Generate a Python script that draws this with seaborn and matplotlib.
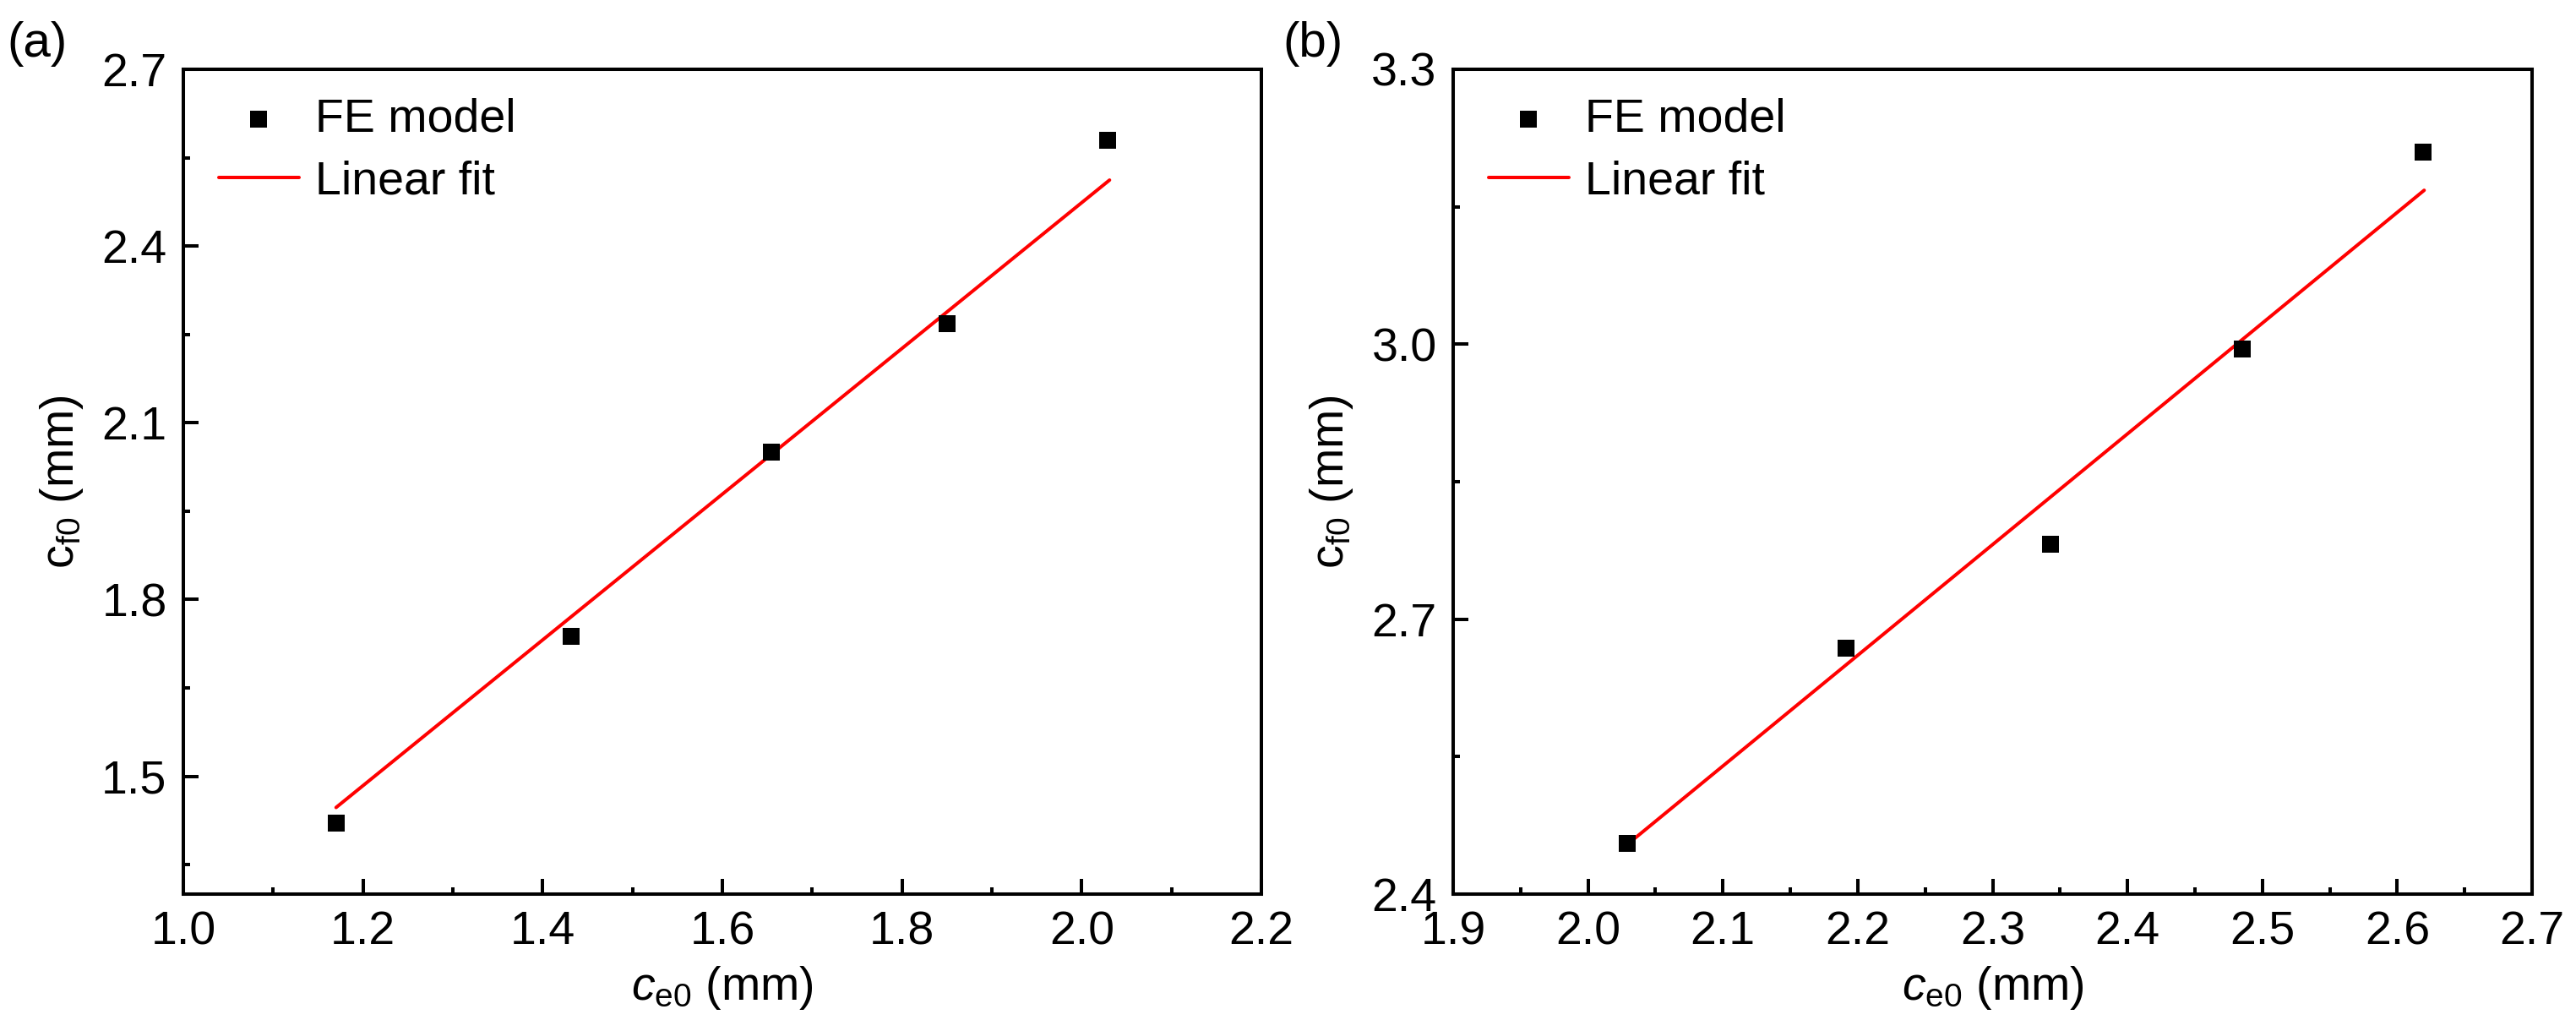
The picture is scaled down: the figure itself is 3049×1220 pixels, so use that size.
import numpy as np
import pandas as pd
import matplotlib
matplotlib.use("Agg")
import matplotlib.pyplot as plt
import seaborn as sns
from matplotlib.ticker import FixedLocator, FormatStrFormatter

# ---------------- data ----------------
ce0_a = [1.170, 1.432, 1.655, 1.850, 2.029]
cf0_a = [1.421, 1.737, 2.050, 2.268, 2.580]
fit_x_a = [1.170, 2.031]
fit_y_a = [1.447, 2.512]

ce0_b = [2.029, 2.191, 2.343, 2.485, 2.619]
cf0_b = [2.455, 2.668, 2.782, 2.995, 3.210]
fit_x_b = [2.029, 2.620]
fit_y_b = [2.454, 3.168]

xticks_a = [1.0, 1.2, 1.4, 1.6, 1.8, 2.0, 2.2]
xminor_a = [1.1, 1.3, 1.5, 1.7, 1.9, 2.1]
yticks_a = [1.5, 1.8, 2.1, 2.4, 2.7]
yminor_a = [1.35, 1.65, 1.95, 2.25, 2.55]
xlim_a = (1.0, 2.2)
ylim_a = (1.3, 2.7)

xticks_b = [1.9, 2.0, 2.1, 2.2, 2.3, 2.4, 2.5, 2.6, 2.7]
xminor_b = [1.95, 2.05, 2.15, 2.25, 2.35, 2.45, 2.55, 2.65]
yticks_b = [2.4, 2.7, 3.0, 3.3]
yminor_b = [2.55, 2.85, 3.15]
xlim_b = (1.9, 2.7)
ylim_b = (2.4, 3.3)

labels = ["FE model", "Linear fit"]
panel_tags = ["(a)", "(b)"]
xlabel = r"$c_{\mathrm{e0}}$ (mm)"
ylabel = r"$\mathrm{c}_{\mathrm{f0}}$ (mm)"

# ---------------- style ----------------
sns.set_theme(style="ticks")
plt.rcParams["font.family"] = ["Liberation Sans", "DejaVu Sans"]
plt.rcParams["mathtext.fontset"] = "custom"
plt.rcParams["mathtext.rm"] = "Liberation Sans"
plt.rcParams["mathtext.it"] = "Liberation Sans:italic"
plt.rcParams["mathtext.bf"] = "Liberation Sans:bold"
plt.rcParams["axes.edgecolor"] = "black"
plt.rcParams["text.color"] = "black"
plt.rcParams["axes.labelcolor"] = "black"
plt.rcParams["xtick.color"] = "black"
plt.rcParams["ytick.color"] = "black"

FS = 40
W, H = 3049, 1220
DPI = 100
fig = plt.figure(figsize=(W / DPI, H / DPI), dpi=DPI)
fig.patch.set_facecolor("white")

ax_a = fig.add_axes([217 / W, 1 - 1058 / H, (1493 - 217) / W, (1058 - 82) / H])
ax_b = fig.add_axes([1720 / W, 1 - 1058 / H, (2997 - 1720) / W, (1058 - 82) / H])

panels = [
    (ax_a, ce0_a, cf0_a, fit_x_a, fit_y_a, xticks_a, xminor_a, yticks_a, yminor_a, xlim_a, ylim_a),
    (ax_b, ce0_b, cf0_b, fit_x_b, fit_y_b, xticks_b, xminor_b, yticks_b, yminor_b, xlim_b, ylim_b),
]

for ax, xs, ys, fx, fy, xt, xm, yt, ym, xl, yl in panels:
    ax.set_facecolor("white")
    df_pts = pd.DataFrame({"x": xs, "y": ys})
    df_fit = pd.DataFrame({"x": fx, "y": fy})
    sns.scatterplot(data=df_pts, x="x", y="y", ax=ax, marker="s", s=207,
                    color="black", linewidth=0, label=labels[0], zorder=3)
    sns.lineplot(data=df_fit, x="x", y="y", ax=ax, color="#ff0000",
                 linewidth=2.9, label=labels[1], zorder=2)
    ax.set_xlim(*xl)
    ax.set_ylim(*yl)
    ax.xaxis.set_major_locator(FixedLocator(xt))
    ax.xaxis.set_minor_locator(FixedLocator(xm))
    ax.yaxis.set_major_locator(FixedLocator(yt))
    ax.yaxis.set_minor_locator(FixedLocator(ym))
    ax.xaxis.set_major_formatter(FormatStrFormatter("%.1f"))
    ax.yaxis.set_major_formatter(FormatStrFormatter("%.1f"))
    for s in ax.spines.values():
        s.set_visible(True)
        s.set_linewidth(2.9)
        s.set_color("black")
    ax.tick_params(which="major", direction="in", length=13, width=2.9,
                   labelsize=FS, pad=14, top=False, right=False)
    ax.tick_params(which="minor", direction="in", length=6, width=2.9,
                   top=False, right=False)
    ax.set_xlabel(xlabel, fontsize=FS, labelpad=8)
    ax.set_ylabel(ylabel, fontsize=FS, labelpad=14)
    ax.grid(False)
    handles, labs = ax.get_legend_handles_labels()
    ax.legend(handles, labs, loc="upper left", bbox_to_anchor=(0.007, 1.0),
              frameon=False, fontsize=FS,
              handlelength=1.7, handletextpad=0.35, labelspacing=0.4,
              borderaxespad=0.2, borderpad=0.4, markerscale=1.0)

fig.text(8 / W, 1 - 52 / H, panel_tags[0], fontsize=FS + 2, va="center", ha="left")
fig.text(1518 / W, 1 - 52 / H, panel_tags[1], fontsize=FS + 2, va="center", ha="left")

fig.savefig("out.png", dpi=DPI, facecolor="white")
